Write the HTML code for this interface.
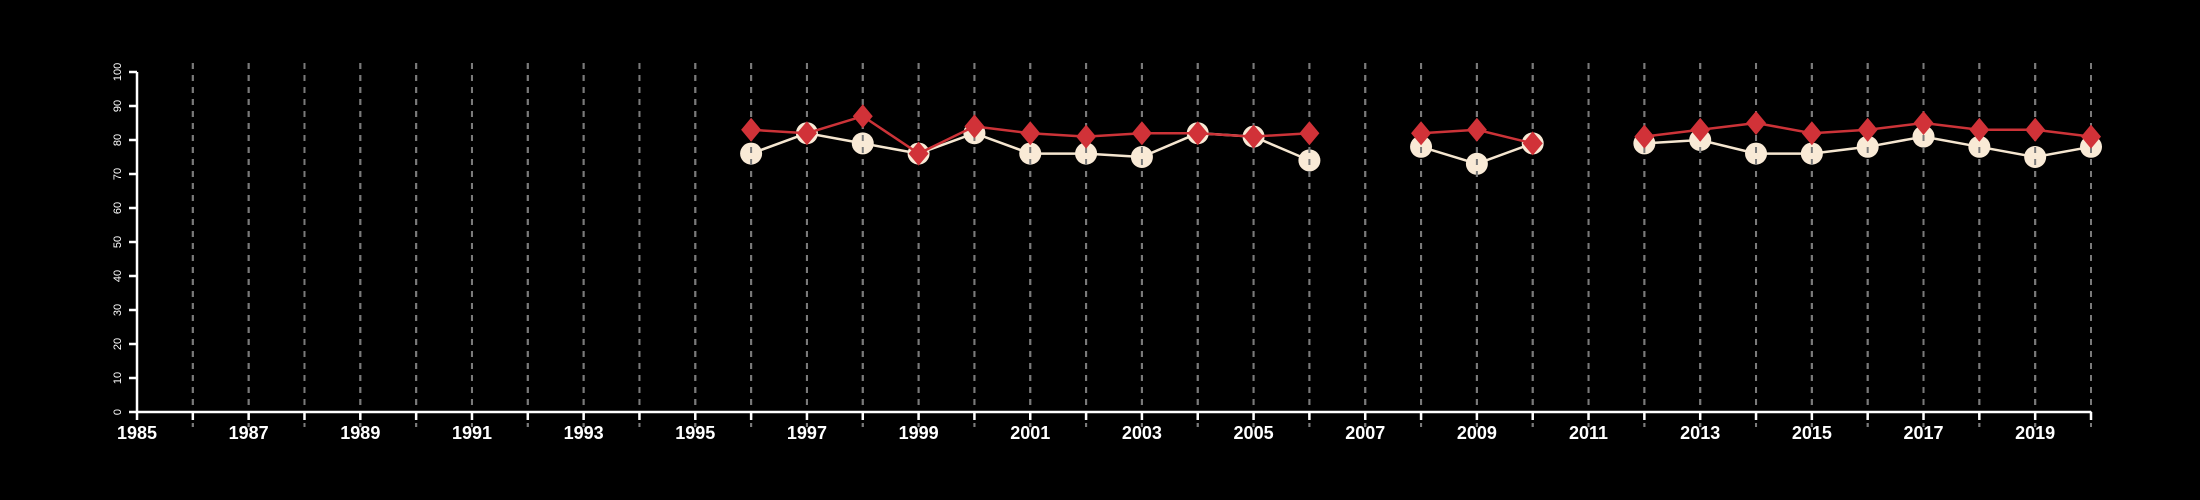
<!DOCTYPE html>
<html><head><meta charset="utf-8"><style>
html,body{margin:0;padding:0;background:#000;}
svg{display:block;}
text{font-family:"Liberation Sans",sans-serif;fill:#fff;}
</style></head><body>
<svg id="chart" width="2200" height="500" viewBox="0 0 2200 500">
<rect width="2200" height="500" fill="#000"/>
<g id="grid"></g>
<g id="seriesA"></g>
<g id="gridOver"></g>
<g id="seriesB"></g>
<g id="axes"></g>
</svg>
<script>
const years = [1996,1997,1998,1999,2000,2001,2002,2003,2004,2005,2006,2007,2008,2009,2010,2011,2012,2013,2014,2015,2016,2017,2018,2019,2020];
const seriesA = [76,82,79,76,82,76,76,75,82,81,74,null,78,73,79,null,79,80,76,76,78,81,78,75,78];
const seriesB = [83,82,87,76,84,82,81,82,82,81,82,null,82,83,79,null,81,83,85,82,83,85,83,83,81];
const yTicks = [0,10,20,30,40,50,60,70,80,90,100];
const xLabelYears = [1985,1987,1989,1991,1993,1995,1997,1999,2001,2003,2005,2007,2009,2011,2013,2015,2017,2019];
const xMin=1985, xMax=2020, yMin=0, yMax=100;
const X0=137, X1=2091, Y0=412, Y1=72;
const NS="http://www.w3.org/2000/svg";
function x(v){return X0+(v-xMin)/(xMax-xMin)*(X1-X0);}
function y(v){return Y0-(v-yMin)/(yMax-yMin)*(Y0-Y1);}
function mk(tag,attrs,parent){const e=document.createElementNS(NS,tag);for(const k in attrs)e.setAttribute(k,attrs[k]);parent.appendChild(e);return e;}
const grid=document.getElementById('grid'),gov=document.getElementById('gridOver'),gA=document.getElementById('seriesA'),gB=document.getElementById('seriesB'),ax=document.getElementById('axes');
for(let yr=xMin+1;yr<=xMax;yr++){
  [grid,gov].forEach(p=>{
    const l=mk('line',{x1:x(yr),x2:x(yr),y1:63,y2:427,stroke:'#7a7a7a','stroke-width':2,'stroke-dasharray':'6,6'},p);
    
    
  });
}
function drawLine(vals,color,parent,name){
  let seg=[];
  const flush=()=>{if(seg.length>1){const p=mk('polyline',{points:seg.join(' '),fill:'none',stroke:color,'stroke-width':2.5},parent);}seg=[];};
  vals.forEach((v,i)=>{if(v==null)flush();else seg.push(x(years[i])+','+y(v));});
  flush();
}
drawLine(seriesA,'#f5e6d0',gA,'series-a');
seriesA.forEach((v,i)=>{if(v==null)return;
  const c=mk('circle',{cx:x(years[i]),cy:y(v),r:11,fill:'#f9ead6'},gA);
  
  
});
drawLine(seriesB,'#cc3338',gB,'series-b');
seriesB.forEach((v,i)=>{if(v==null)return;
  const cx=x(years[i]),cy=y(v);
  const d=mk('polygon',{points:`${cx},${cy-12} ${cx+10},${cy} ${cx},${cy+12} ${cx-10},${cy}`,fill:'#d13238'},gB);
  
  
});
let a=mk('line',{x1:X0,x2:X1,y1:Y0,y2:Y0,stroke:'#fff','stroke-width':2.5},ax);

a=mk('line',{x1:X0,x2:X0,y1:Y0,y2:Y1,stroke:'#fff','stroke-width':2.5},ax);

for(let yr=xMin;yr<=xMax;yr++){
  const t=mk('line',{x1:x(yr),x2:x(yr),y1:Y0,y2:Y0+8,stroke:'#fff','stroke-width':2.5},ax);
  
}
xLabelYears.forEach(yr=>{
  const t=mk('text',{x:x(yr),y:439,'text-anchor':'middle','font-size':18,'font-weight':'bold'},ax);
  t.textContent=yr;
  
});
yTicks.forEach(v=>{
  const t=mk('line',{x1:X0,x2:X0-8,y1:y(v),y2:y(v),stroke:'#fff','stroke-width':2.5},ax);
  
  const l=mk('text',{x:0,y:0,'text-anchor':'middle','font-size':11,transform:`translate(121,${y(v)}) rotate(-90)`},ax);
  l.textContent=v;
  
});
</script>
</body></html>
